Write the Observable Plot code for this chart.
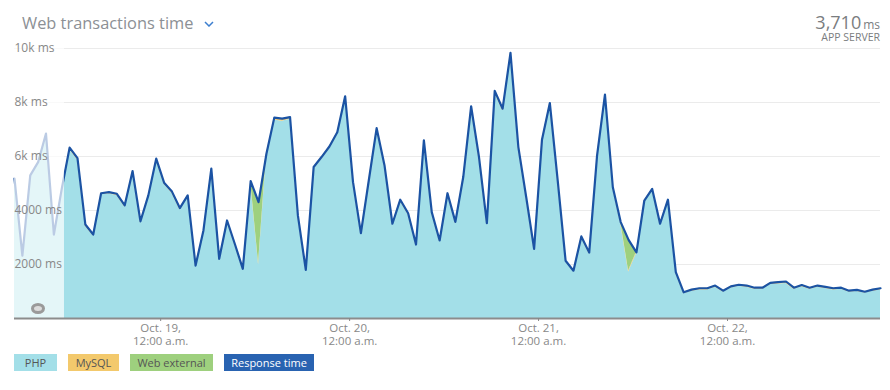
<!DOCTYPE html>
<html><head><meta charset="utf-8">
<script src="https://cdn.jsdelivr.net/npm/d3@7"></script>
<script src="https://cdn.jsdelivr.net/npm/@observablehq/plot@0.6"></script>
<style>
html,body{margin:0;padding:0;background:#fff;}
#wrap{position:relative;width:890px;height:390px;font-family:"Open Sans",sans-serif;overflow:hidden;}
#chart{position:absolute;left:0;top:0;}
.title{position:absolute;left:22px;top:13px;font-size:16.4px;line-height:20px;color:#8c9095;white-space:nowrap;}
.caret{position:absolute;left:204px;top:21px;}
.big{position:absolute;right:10px;top:14px;line-height:16px;height:16px;color:#7a7d80;white-space:nowrap;text-align:right;}
.big .num{font-size:18px;line-height:16px;}
.big .unit{font-size:12px;line-height:16px;margin-left:2px;}
.sub{position:absolute;right:10px;top:32px;font-size:10.5px;line-height:10px;color:#7a7d80;white-space:nowrap;}
.legend{position:absolute;left:14px;top:354px;display:flex;gap:11px;}
.legend span{display:block;height:17px;line-height:17px;padding:0;text-align:center;font-size:11px;color:#555;white-space:nowrap;}
.legend span:nth-child(1){width:43px;}
.legend span:nth-child(2){width:51px;}
.legend span:nth-child(3){width:83px;}
.legend span:nth-child(4){width:90px;}
.ring{position:absolute;left:31px;top:303px;width:14px;height:11px;box-sizing:border-box;border:3px solid #9a9a9a;border-radius:50%;background:#dcdcdc;}
</style></head>
<body>
<div id="wrap">
  <div id="chart"></div>
  <div class="title" id="title"></div>
  <svg class="caret" width="10" height="6"><polyline points="1,1 5,5 9,1" fill="none" stroke="#3d7fcf" stroke-width="1.5"/></svg>
  <div class="big"><span class="num" id="bignum"></span><span class="unit" id="bigunit"></span></div>
  <div class="sub" id="sub"></div>
  <div class="ring"></div>
  <div class="legend" id="legend"></div>
</div>
<script>
// ---- data ----
const titleText = "Web transactions time";
const summaryValue = "3,710";
const summaryUnit = "ms";
const summaryLabel = "APP SERVER";

const series = ["PHP", "MySQL", "Web external"];
const seriesColors = ["#a3dfe8", "#f3c96c", "#9ed07e"];
const legendLabels = ["PHP", "MySQL", "Web external", "Response time"];
const legendColors = ["#a3dfe8", "#f3c96c", "#9ed07e", "#2963b1"];

// hourly samples starting Oct 18, 05:26
const startTime = Date.UTC(2016, 9, 18, 5, 26);
const fadeEndTime = Date.UTC(2016, 9, 18, 11, 47);

const response = [
  5180, 2330, 5300, 5790, 6850, 3110, 4800, 6330, 5940, 3480,
  3110, 4640, 4680, 4620, 4190, 5460, 3600, 4560, 5920, 5030,
  4700, 4090, 4560, 1960, 3260, 5550, 2210, 3630, 2750, 1840,
  5090, 4310, 6100, 7440, 7400, 7460, 3810, 1800, 5610, 5980,
  6370, 6900, 8230, 5050, 3160, 5110, 7050, 5670, 3510, 4400,
  3900, 2740, 6600, 3940, 2890, 4640, 3580, 5240, 7860, 5980,
  3530, 8430, 7770, 9840, 6350, 4490, 2580, 6620, 7980, 5110,
  2140, 1770, 3040, 2440, 6040, 8290, 4860, 3570, 2910, 2450,
  4370, 4800, 3510, 4400, 1720, 970, 1070, 1120, 1120, 1220,
  1030, 1190, 1250, 1220, 1140, 1140, 1320, 1350, 1370, 1140,
  1240, 1140, 1220, 1170, 1120, 1140, 1030, 1060, 990, 1070, 1120
];
const php = [
  5120, 2280, 5240, 5720, 6780, 3060, 4740, 6260, 5870, 3420,
  3060, 4580, 4620, 4560, 4130, 5390, 3540, 4500, 5850, 4970,
  4640, 4030, 4500, 1920, 3210, 5480, 2170, 3570, 2700, 1800,
  5030, 1995, 6030, 7350, 7310, 7380, 3750, 1760, 5530, 5890,
  6280, 6810, 8150, 4980, 3110, 5050, 6980, 5610, 3460, 4340,
  3840, 2690, 6530, 3880, 2840, 4580, 3520, 5170, 7780, 5910,
  3470, 8350, 7690, 9750, 6280, 4430, 2530, 6550, 7900, 5050,
  2100, 1730, 2990, 2390, 5970, 8210, 4800, 3510, 1723, 2400,
  4310, 4740, 3450, 4340, 1670, 920, 1010, 1060, 1060, 1160,
  980, 1130, 1190, 1160, 1080, 1080, 1260, 1280, 1300, 1080,
  1180, 1080, 1160, 1110, 1060, 1080, 980, 1000, 940, 1010, 1060
];
const mysql = [
  60, 50, 60, 70, 70, 50, 60, 70, 70, 60,
  50, 60, 60, 60, 60, 70, 60, 60, 70, 60,
  60, 60, 60, 40, 50, 70, 40, 60, 50, 40,
  60, 50, 70, 90, 90, 80, 60, 40, 80, 90,
  90, 90, 80, 70, 50, 60, 70, 60, 50, 60,
  60, 50, 70, 60, 50, 60, 60, 70, 80, 70,
  60, 80, 80, 90, 70, 60, 50, 70, 80, 60,
  40, 40, 50, 50, 70, 80, 60, 60, 50, 50,
  60, 60, 60, 60, 50, 50, 60, 60, 60, 60,
  50, 60, 60, 60, 60, 60, 60, 70, 70, 60,
  60, 60, 60, 60, 60, 60, 50, 60, 50, 60, 60
];
const webExternal = [
  0, 0, 0, 0, 0, 0, 0, 0, 0, 0,
  0, 0, 0, 0, 0, 0, 0, 0, 0, 0,
  0, 0, 0, 0, 0, 0, 0, 0, 0, 0,
  0, 2265, 0, 0, 0, 0, 0, 0, 0, 0,
  0, 0, 0, 0, 0, 0, 0, 0, 0, 0,
  0, 0, 0, 0, 0, 0, 0, 0, 0, 0,
  0, 0, 0, 0, 0, 0, 0, 0, 0, 0,
  0, 0, 0, 0, 0, 0, 0, 0, 1137, 0,
  0, 0, 0, 0, 0, 0, 0, 0, 0, 0,
  0, 0, 0, 0, 0, 0, 0, 0, 0, 0,
  0, 0, 0, 0, 0, 0, 0, 0, 0, 0, 0
];

const yTicks = [2000, 4000, 6000, 8000, 10000];
const yTickLabels = ["2000 ms", "4000 ms", "6k ms", "8k ms", "10k ms"];
const xTicks = [Date.UTC(2016, 9, 19), Date.UTC(2016, 9, 20), Date.UTC(2016, 9, 21), Date.UTC(2016, 9, 22)];
const xTickLabels = ["Oct. 19,\n12:00 a.m.", "Oct. 20,\n12:00 a.m.", "Oct. 21,\n12:00 a.m.", "Oct. 22,\n12:00 a.m."];

// ---- build ----
const HOUR = 3600e3;
const times = response.map((_, i) => new Date(startTime + i * HOUR));
const seriesValues = [php, mysql, webExternal];
const rows = [];
series.forEach((s, k) => seriesValues[k].forEach((v, i) => rows.push({time: times[i], series: s, value: v})));
const lineRows = response.map((v, i) => ({time: times[i], value: v}));
const fade = [{x1: times[0], x2: new Date(fadeEndTime), y1: 0, y2: 10000}];
const yLabelRows = yTicks.map((v, i) => ({v, label: yTickLabels[i]}));
const xLabelMap = new Map(xTicks.map((t, i) => [t, xTickLabels[i]]));

const chart = Plot.plot({
  width: 890, height: 350,
  marginLeft: 14, marginRight: 10, marginTop: 48, marginBottom: 32,
  style: {fontFamily: '"Open Sans", sans-serif', background: "transparent", overflow: "visible"},
  x: {type: "utc", domain: [times[0], times[times.length - 1]], axis: null},
  y: {domain: [0, 10000], axis: null},
  color: {domain: series, range: seriesColors},
  marks: [
    Plot.gridY(yTicks, {stroke: "#ebebeb", strokeOpacity: 1}),
    Plot.areaY(rows, Plot.stackY({x: "time", y: "value", fill: "series", z: "series", order: null})),
    Plot.lineY(lineRows, {x: "time", y: "value", stroke: "#1b53a4", strokeWidth: 2.2, strokeLinejoin: "round"}),
    Plot.rect(fade, {x1: "x1", x2: "x2", y1: "y1", y2: "y2", fill: "white", fillOpacity: 0.7}),
    Plot.text(yLabelRows, {y: "v", text: "label", frameAnchor: "left", textAnchor: "start", fill: "#888", fontSize: 12}),
    Plot.ruleY([0], {stroke: "#8c8c8c", strokeWidth: 2}),
    Plot.axisX(xTicks.map(t => new Date(t)), {tickFormat: d => xLabelMap.get(+d), tickSize: 3, tickPadding: 1, color: "#888", fontSize: 11.5, lineHeight: 1.12})
  ]
});
document.getElementById("chart").appendChild(chart);

document.getElementById("title").textContent = titleText;
document.getElementById("bignum").textContent = summaryValue;
document.getElementById("bigunit").textContent = summaryUnit;
document.getElementById("sub").textContent = summaryLabel;
const legend = document.getElementById("legend");
legendLabels.forEach((l, i) => {
  const s = document.createElement("span");
  s.textContent = l;
  s.style.background = legendColors[i];
  if (i === 3) s.style.color = "#fff";
  legend.appendChild(s);
});
</script>
</body></html>
